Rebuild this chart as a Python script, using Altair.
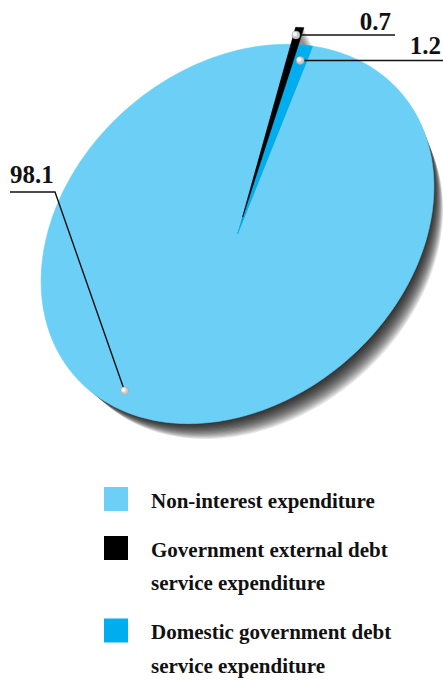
import math
import altair as alt
import numpy as np
import pandas as pd

# ---------------- data ----------------
categories = [
    "Non-interest expenditure",
    "Government external debt service expenditure",
    "Domestic government debt service expenditure",
]
values = [98.1, 0.7, 1.2]
value_labels = ["98.1", "0.7", "1.2"]
legend_lines = [
    ["Non-interest expenditure"],
    ["Government external debt", "service expenditure"],
    ["Domestic government debt", "service expenditure"],
]
colors = ["#6BCFF6", "#000000", "#00AEEF"]

# ---------------- style / layout ----------------
W, H = 443, 682
CX, CY = 237.5, 234.0          # pie centre (view units)
A_AX, B_AX, TILT = 216.0, 167.0, 41.0   # tilted ellipse look of the disc
START = 15.4                   # start angle (deg, clockwise from 12 o'clock)
EXPLODE = [0.0, 0.09, 0.0]
ANCHOR = [(0.557, 0.91), (0.30, 0.96), (0.49, 0.92)]   # (fraction of span, radius)
LEADER = [
    dict(elbow=(55, 192), end_x=10, align="left", text_x=10, rise=9),
    dict(elbow=None, end_x=395, align="right", text_x=391, rise=5),
    dict(elbow=None, end_x=443, align="right", text_x=441, rise=6),
]
SHADOW_STEPS, SHADOW_DX, SHADOW_DY, SHADOW_SHRINK, SHADOW_ALPHA = 14, 15.0, 21.0, 0.03, 0.10
FONT = "Liberation Serif"
LEG_SQ_X, LEG_TEXT_X, LEG_Y0, LEG_LH, LEG_GAP = 116, 151, 499, 33.5, 15.5

# ---------------- geometry built from the values ----------------
c, s = math.cos(math.radians(TILT)), math.sin(math.radians(TILT))
R = np.array([[c, -s], [s, c]])
M = R @ np.diag([A_AX, B_AX]) @ R.T


def to_screen(t_deg, r=1.0, off=(0.0, 0.0)):
    t = math.radians(t_deg)
    p = M @ np.array([math.sin(t), math.cos(t)]) * r
    return CX + p[0] + off[0], CY - p[1] + off[1]


def slice_polygon(st, span, expl, scale=1.0, shift=(0.0, 0.0)):
    mid = st + span / 2
    ex, ey = to_screen(mid, expl * scale)
    off = (ex - CX + shift[0], ey - CY + shift[1])
    pts = [(CX + off[0], CY + off[1])]
    n = max(3, int(math.ceil(span)) + 1)
    for j in range(n):
        pts.append(to_screen(st + span * j / (n - 1), scale, off))
    return pts, off


total = sum(values)
spans = [360.0 * v / total for v in values]
starts = [START + sum(spans[:i]) for i in range(len(values))]

pie_rows, shadow_rows, anchors = [], [], []
for i, cat in enumerate(categories):
    pts, off = slice_polygon(starts[i], spans[i], EXPLODE[i])
    for k, (x, y) in enumerate(pts):
        pie_rows.append(dict(cat=cat, k=k, x=x, y=y))
    for step in range(1, SHADOW_STEPS + 1):
        f = step / SHADOW_STEPS
        spts, _ = slice_polygon(starts[i], spans[i], EXPLODE[i],
                                scale=1 - SHADOW_SHRINK * f,
                                shift=(SHADOW_DX * f, SHADOW_DY * f))
        for k, (x, y) in enumerate(spts):
            shadow_rows.append(dict(grp=f"{step}-{i}", k=k, x=x, y=y))
    fr, rr = ANCHOR[i]
    anchors.append(to_screen(starts[i] + spans[i] * fr, rr, off))
pie = pd.DataFrame(pie_rows)
shadow = pd.DataFrame(shadow_rows)

lead_rows, lab_rows, dot_rows = [], [], []
for i, lab in enumerate(value_labels):
    ax_, ay_ = anchors[i]
    L = LEADER[i]
    pts = [(ax_, ay_)]
    if L["elbow"]:
        pts.append(L["elbow"])
    line_y = pts[-1][1]
    pts.append((L["end_x"], line_y))
    for k, (x, y) in enumerate(pts):
        lead_rows.append(dict(lab=lab, k=k, x=x, y=y))
    lab_rows.append(dict(lab=lab, x=L["text_x"], y=line_y - L["rise"], align=L["align"]))
    dot_rows.append(dict(lab=lab, x=ax_, y=ay_))
leads = pd.DataFrame(lead_rows)
labs = pd.DataFrame(lab_rows)
dots = pd.DataFrame(dot_rows)

sq_rows, txt_rows = [], []
yc = LEG_Y0
for i, cat in enumerate(categories):
    sq_rows.append(dict(cat=cat, x=LEG_SQ_X, y=yc))
    for j, line in enumerate(legend_lines[i]):
        txt_rows.append(dict(t=line, x=LEG_TEXT_X, y=yc + 8.5 + j * LEG_LH))
    yc += len(legend_lines[i]) * LEG_LH + LEG_GAP
sq = pd.DataFrame(sq_rows)
txt = pd.DataFrame(txt_rows)

# ---------------- chart ----------------
X = alt.X("x:Q", scale=alt.Scale(domain=[0, W], nice=False, zero=False), axis=None)
Y = alt.Y("y:Q", scale=alt.Scale(domain=[0, H], nice=False, zero=False, reverse=True), axis=None)
cscale = alt.Scale(domain=categories, range=colors)

layers = [
    alt.Chart(shadow).mark_line(interpolate="linear-closed", strokeOpacity=0).encode(
        x=X, y=Y, order="k:Q", detail="grp:N",
        fill=alt.value("#000000"), fillOpacity=alt.value(SHADOW_ALPHA),
    )
]

for cat in [categories[0], categories[2], categories[1]]:
    layers.append(
        alt.Chart(pie).transform_filter(alt.datum.cat == cat).mark_line(
            interpolate="linear-closed", strokeWidth=0.6
        ).encode(
            x=X, y=Y, order="k:Q", detail="cat:N",
            fill=alt.Fill("cat:N", scale=cscale, legend=None),
            stroke=alt.Stroke("cat:N", scale=cscale, legend=None),
        )
    )

layers.append(
    alt.Chart(leads).mark_line(color="#111111", strokeWidth=1.4).encode(
        x=X, y=Y, order="k:Q", detail="lab:N"
    )
)
layers.append(
    alt.Chart(dots).mark_point(filled=True, fill="#cccccc", stroke="#999999",
                               strokeWidth=0.5, size=64, opacity=1).encode(x=X, y=Y)
)
layers.append(
    alt.Chart(dots).mark_point(filled=True, fill="#f4f4f4", size=20, opacity=1,
                               xOffset=-1, yOffset=-1).encode(x=X, y=Y)
)
for al in ["left", "right"]:
    layers.append(
        alt.Chart(labs).transform_filter(alt.datum.align == al).mark_text(
            font=FONT, fontWeight="bold", fontSize=25, align=al,
            baseline="alphabetic", color="#111111"
        ).encode(x=X, y=Y, text="lab:N")
    )

layers.append(
    alt.Chart(sq).mark_square(size=576, opacity=1).encode(
        x=X, y=Y, color=alt.Color("cat:N", scale=cscale, legend=None)
    )
)
layers.append(
    alt.Chart(txt).mark_text(
        font=FONT, fontWeight="bold", fontSize=21, align="left",
        baseline="alphabetic", color="#111111"
    ).encode(x=X, y=Y, text="t:N")
)

chart = alt.layer(*layers).properties(
    width=W, height=H, autosize="none", padding=0, background="white"
).configure_view(stroke=None)

chart.save("out.html", embed_options={"renderer": "svg", "actions": False})
